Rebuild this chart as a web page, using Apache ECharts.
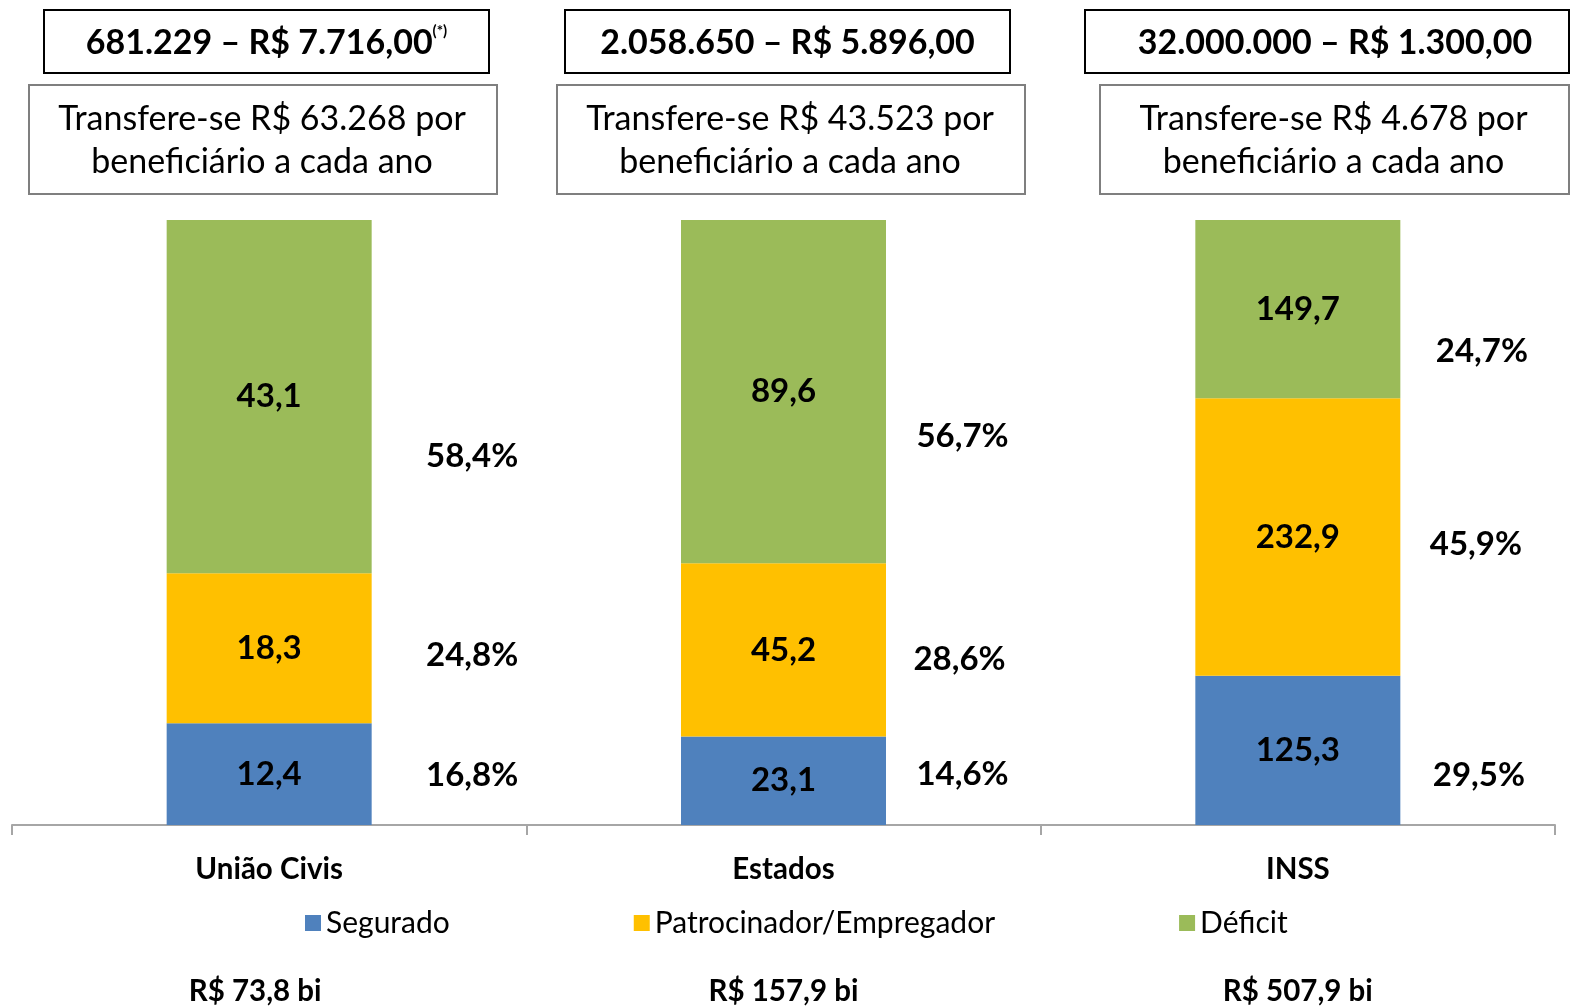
<!DOCTYPE html>
<html>
<head>
<meta charset="utf-8">
<script src="https://cdn.jsdelivr.net/npm/echarts@6/dist/echarts.min.js"></script>
<style>
  html, body { margin: 0; padding: 0; background: #fff; }
  #chart { width: 1571px; height: 1006px; }
</style>
</head>
<body>
<div id="chart"></div>
<script>
// dados
const categories = ['União Civis', 'Estados', 'INSS']
const seriesNames = ['Segurado', 'Patrocinador/Empregador', 'Déficit']
const segurado = [12.4, 23.1, 125.3]
const patrocinador = [18.3, 45.2, 232.9]
const deficit = [43.1, 89.6, 149.7]
// percentuais como aparecem no slide
const pctSegurado = ['16,8%', '14,6%', '29,5%']
const pctPatrocinador = ['24,8%', '28,6%', '45,9%']
const pctDeficit = ['58,4%', '56,7%', '24,7%']
const headTitles = ['681.229 – R$ 7.716,00', '2.058.650 – R$ 5.896,00', '32.000.000 – R$ 1.300,00']
const headNotes = ['(*)', '', '']
const transfers = ['R$ 63.268', 'R$ 43.523', 'R$ 4.678']

const colors = ['#4f81bd', '#ffc000', '#9bbb59']
const FONT = 'Lato'

const values = [segurado, patrocinador, deficit]
const pcts = [pctSegurado, pctPatrocinador, pctDeficit]
const totals = categories.map((c, i) => segurado[i] + patrocinador[i] + deficit[i])
const fmt = v => v.toFixed(1).replace('.', ',')

// deslocamento dos rótulos de percentual [dx, dy] (camada x categoria)
const pctOffset = [
  [[203, 1], [179, -6], [181, 25]],
  [[203, 7], [176, 9], [178, 7]],
  [[203, 60], [179, 45], [184, 42]]
]

const chart = echarts.init(document.getElementById('chart'))

const barSeries = values.map((arr, s) => ({
  name: seriesNames[s],
  type: 'bar',
  stack: 'total',
  barWidth: 205,
  barGap: '-100%',
  itemStyle: { color: colors[s] },
  label: {
    show: true,
    position: 'inside',
    color: '#000',
    fontFamily: FONT,
    fontWeight: 'bold',
    fontSize: 33,
    formatter: p => fmt(arr[p.dataIndex])
  },
  data: arr.map((v, i) => v / totals[i] * 100)
}))

const pctSeries = values.map((arr, s) => ({
  name: '_pct' + s,
  type: 'bar',
  stack: 'pct',
  barWidth: 205,
  barGap: '-100%',
  silent: true,
  itemStyle: { color: 'rgba(0,0,0,0)' },
  label: {
    show: true,
    position: 'inside',
    color: '#000',
    fontFamily: FONT,
    fontWeight: 'bold',
    fontSize: 33,
    formatter: p => pcts[s][p.dataIndex]
  },
  data: arr.map((v, i) => ({
    value: v / totals[i] * 100,
    label: { offset: pctOffset[s][i] }
  }))
}))

// caixas do topo
const topBoxes = [[44, 445], [565, 445], [1085, 484]]
const subBoxes = [[29, 468], [557, 468], [1100, 469]]
const graphics = []
categories.forEach((c, i) => {
  const [x1, w1] = topBoxes[i]
  const [x2, w2] = subBoxes[i]
  graphics.push({
    type: 'rect', shape: { x: x1, y: 10, width: w1, height: 63 },
    style: { fill: '#fff', stroke: '#000', lineWidth: 2 }
  })
  graphics.push({
    type: 'text', x: x1 + w1 / 2 + (i === 2 ? 8 : 0), y: 43,
    style: {
      text: '{m|' + headTitles[i] + '}' + (headNotes[i] ? '{s|' + headNotes[i] + '}' : ''),
      align: 'center', verticalAlign: 'middle',
      rich: {
        m: { fontFamily: FONT, fontWeight: 'bold', fontSize: 34, fill: '#000', lineHeight: 38 },
        s: { fontFamily: FONT, fontWeight: 'bold', fontSize: 15, fill: '#000', verticalAlign: 'top', lineHeight: 38 }
      }
    }
  })
  graphics.push({
    type: 'rect', shape: { x: x2, y: 85, width: w2, height: 109 },
    style: { fill: '#fff', stroke: '#7f7f7f', lineWidth: 2 }
  })
  graphics.push({
    type: 'text', x: x2 + w2 / 2 - 1, y: 141,
    style: {
      text: 'Transfere-se ' + transfers[i] + ' por\nbeneficiário a cada ano',
      align: 'center', verticalAlign: 'middle',
      fontFamily: FONT, fontSize: 34, lineHeight: 43, fill: '#000'
    }
  })
})

const option = {
  animation: false,
  backgroundColor: '#fff',
  grid: { left: 12, right: 16, top: 220, bottom: 176 },
  legend: {
    data: seriesNames,
    left: 300,
    top: 902,
    icon: 'rect',
    itemWidth: 16,
    itemHeight: 16,
    itemGap: 184,
    textStyle: { fontFamily: FONT, fontSize: 30, color: '#000', lineHeight: 32 }
  },
  xAxis: {
    type: 'category',
    data: categories,
    axisLine: { lineStyle: { color: '#a6a6a6', width: 2 } },
    axisTick: { show: true, length: 10, lineStyle: { color: '#a6a6a6', width: 2 } },
    axisLabel: {
      margin: 25,
      interval: 0,
      formatter: (v, i) => '{n|' + v + '}\n{s|}\n{' + (i === 0 ? 'tl' : 't') + '|R$ ' + fmt(totals[i]) + ' bi}',
      rich: {
        n: { fontFamily: FONT, fontWeight: 'bold', fontSize: 29.5, color: '#000', lineHeight: 38 },
        s: { lineHeight: 84, fontSize: 10 },
        t: { fontFamily: FONT, fontWeight: 'bold', fontSize: 29.5, color: '#000', lineHeight: 38 },
        tl: { fontFamily: FONT, fontWeight: 'bold', fontSize: 29.5, color: '#000', lineHeight: 38, padding: [0, 28, 0, 0] }
      }
    }
  },
  yAxis: { type: 'value', min: 0, max: 100, show: false, splitLine: { show: false } },
  graphic: graphics,
  series: barSeries.concat(pctSeries)
}

chart.setOption(option)
</script>
</body>
</html>
